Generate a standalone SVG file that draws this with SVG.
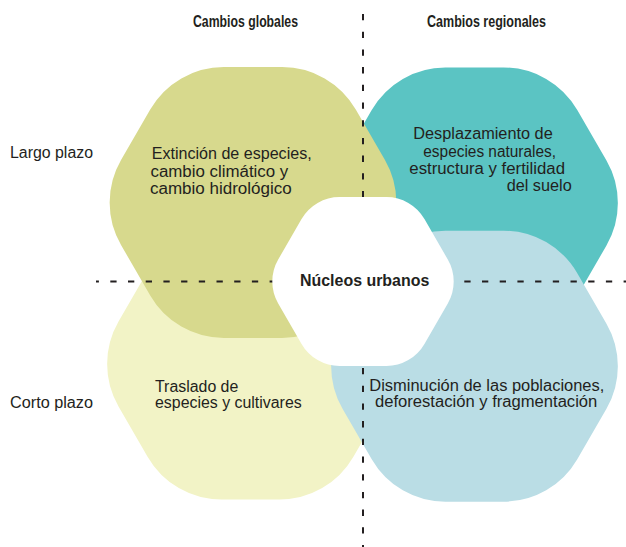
<svg xmlns="http://www.w3.org/2000/svg" xmlns:xlink="http://www.w3.org/1999/xlink" width="626" height="547" viewBox="0 0 626 547">
<style>
  text { font-family: "Liberation Sans", Arial, sans-serif; font-size: 16px; fill: #231f20; }
  .b { font-weight: bold; }
  .dash { stroke: #231f20; stroke-width: 2; fill: none; stroke-dasharray: 6.3 11.4; }
</style>
<defs>
  <path id="hexL" d="M -29.18 -135.5 L 29.18 -135.5 A 85 85 0 0 1 102.78 -93.01 L 131.97 -42.49 A 85 85 0 0 1 131.97 42.49 L 102.78 93.01 A 85 85 0 0 1 29.18 135.5 L -29.18 135.5 A 85 85 0 0 1 -102.78 93.01 L -131.97 42.49 A 85 85 0 0 1 -131.97 -42.49 L -102.78 -93.01 A 85 85 0 0 1 -29.18 -135.5 Z"/>
  <path id="hexS" d="M -23.35 -84.44 L 23.35 -84.44 A 44 44 0 0 1 61.45 -62.44 L 84.8 -22 A 44 44 0 0 1 84.8 22 L 61.45 62.44 A 44 44 0 0 1 23.35 84.44 L -23.35 84.44 A 44 44 0 0 1 -61.45 62.44 L -84.8 22 A 44 44 0 0 1 -84.8 -22 L -61.45 -62.44 A 44 44 0 0 1 -23.35 -84.44 Z"/>
</defs>
<rect width="626" height="547" fill="#ffffff"/>

<g id="node-regional-largo">
  <use xlink:href="#hexL" href="#hexL" transform="translate(474.5,203)" fill="#5bc4c3"/>
  <text x="413.3" y="139.3" textLength="139.4" lengthAdjust="spacingAndGlyphs">Desplazamiento de</text>
  <text x="423.3" y="156.7" textLength="132.7" lengthAdjust="spacingAndGlyphs">especies naturales,</text>
  <text x="409.3" y="174.3" textLength="155.7" lengthAdjust="spacingAndGlyphs">estructura y fertilidad</text>
  <text x="506.7" y="191" textLength="65" lengthAdjust="spacingAndGlyphs">del suelo</text>
</g>

<g id="node-global-corto">
  <use xlink:href="#hexL" href="#hexL" transform="translate(250.5,364)" fill="#f2f3c6"/>
  <text x="155" y="391.7" textLength="83.3" lengthAdjust="spacingAndGlyphs">Traslado de</text>
  <text x="155" y="408.3" textLength="146.7" lengthAdjust="spacingAndGlyphs">especies y cultivares</text>
</g>

<g id="node-global-largo">
  <use xlink:href="#hexL" href="#hexL" transform="translate(253,202.5)" fill="#d7d98d"/>
  <text x="151.7" y="159" textLength="160" lengthAdjust="spacingAndGlyphs">Extinción de especies,</text>
  <text x="150.5" y="176.7" textLength="137.8" lengthAdjust="spacingAndGlyphs">cambio climático y</text>
  <text x="150" y="194.3" textLength="141.7" lengthAdjust="spacingAndGlyphs">cambio hidrológico</text>
</g>

<g id="node-regional-corto">
  <use xlink:href="#hexL" href="#hexL" transform="translate(474.5,366.2)" fill="#badde5"/>
  <text x="369.3" y="391" textLength="235" lengthAdjust="spacingAndGlyphs">Disminución de las poblaciones,</text>
  <text x="375" y="406.7" textLength="222.3" lengthAdjust="spacingAndGlyphs">deforestación y fragmentación</text>
</g>

<g id="connectors">
  <line class="dash" x1="96" y1="281.5" x2="626" y2="281.5" stroke-dashoffset="3.4"/>
  <line class="dash" x1="363" y1="14" x2="363" y2="547"/>
</g>

<g id="node-nucleos">
  <use xlink:href="#hexS" href="#hexS" transform="translate(363,281.5)" fill="#ffffff"/>
  <text class="b" x="300" y="285.7" textLength="129.3" lengthAdjust="spacingAndGlyphs">Núcleos urbanos</text>
</g>

<g id="labels">
  <text class="b" x="193" y="26.7" textLength="105" lengthAdjust="spacingAndGlyphs">Cambios globales</text>
  <text class="b" x="427" y="26.7" textLength="119" lengthAdjust="spacingAndGlyphs">Cambios regionales</text>
  <text x="10" y="158.3" textLength="83" lengthAdjust="spacingAndGlyphs">Largo plazo</text>
  <text x="10" y="407.7" textLength="83" lengthAdjust="spacingAndGlyphs">Corto plazo</text>
</g>
</svg>
